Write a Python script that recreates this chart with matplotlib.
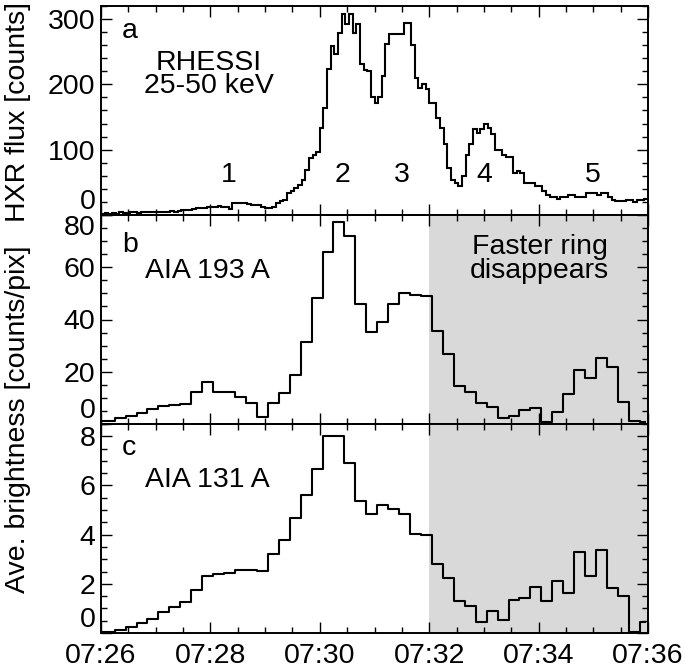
import matplotlib
matplotlib.use("Agg")
import matplotlib.pyplot as plt
import numpy as np
from matplotlib.ticker import MultipleLocator, FuncFormatter

# RHESSI 25-50 keV, 4 s bins starting 07:26:00
hxr_start = 26.0          # minutes after 07:00
hxr_dt = 4.0              # s
hxr_counts = [2, 3, 2, 3, 2, 4, 3, 3, 4,
              4, 3, 5, 4, 4, 5, 4, 5, 4, 5, 6, 5,
              6, 7, 8, 8, 9, 10, 10, 11, 12,
              13, 13, 14, 13, 12, 9,
              19, 19, 18, 18, 17, 16, 15, 15,
              12, 11, 11, 12,
              18, 21, 23,
              34, 37, 41,
              46, 54, 69, 87, 92, 97, 133, 164, 223, 259, 246, 279, 308, 292, 308, 279, 292,
              231, 222, 220, 180, 172, 180, 213, 262,
              277, 277, 277, 277,
              294, 294,
              260, 210, 195, 201, 193,
              172, 172,
              149, 133, 108, 72, 54, 49, 44, 59, 92, 108, 132, 126, 132, 139, 133, 124,
              100, 100, 92, 89, 89,
              65, 68, 64,
              49, 49, 49, 44, 44,
              36, 31, 28, 28, 25, 27, 27, 30, 30,
              28, 28, 28, 34, 33, 33, 30, 33, 33, 28,
              23, 21, 21, 21, 23, 23, 20, 23, 23, 24]

# AIA 12 s cadence, first frame 07:25:57
aia_start = 26.0 - 3.0 / 60
aia_dt = 12.0
aia193 = [1.3, 1.3, 2.2, 3.2, 4.1, 5.6, 6.9, 7.3, 7.6, 12.1, 15.9, 12.4, 12.1, 10.5, 8.0, 2.8, 8.2,
          11.8, 18.6, 31.3, 48.3, 65.9, 77.2, 71.8, 46.0, 35.1, 39.2, 45.8, 50.0, 49.2, 49.0, 35.5,
          26.9, 14.4, 12.1, 8.2, 6.4, 2.2, 3.1, 5.4, 6.0, 0.6, 4.7, 11.5, 20.8, 17.6, 25.3, 21.7,
          8.3, 1.3, 0.6]
aia131 = [0.05, 0.05, 0.12, 0.26, 0.39, 0.57, 0.84, 1.07, 1.25, 1.76, 2.33, 2.39, 2.43, 2.57, 2.57,
          2.53, 3.22, 3.77, 4.68, 5.62, 6.65, 8.01, 8.01, 6.90, 5.36, 4.86, 5.22, 5.05, 4.83, 4.03,
          3.99, 2.82, 2.22, 1.32, 1.10, 0.44, 0.91, 0.53, 1.35, 1.43, 1.89, 1.31, 2.11, 1.62, 3.28,
          2.33, 3.36, 1.81, 1.51, 0.03, 0.44]

peak_labels = ["1", "2", "3", "4", "5"]
peak_times = [28.33, 30.42, 31.5, 33.0, 35.0]
shade_from, shade_to = 32.0, 36.0     # faster ring gone

hxr_edges = hxr_start + np.arange(len(hxr_counts) + 1) * hxr_dt / 60
aia_t = aia_start + np.arange(len(aia193)) * aia_dt / 60

plt.rcParams["font.family"] = ["Liberation Sans", "DejaVu Sans"]
FS = 20.5
LW = 1.5

fig = plt.figure(figsize=(6.85, 6.71), dpi=100)
L, W, H = 101 / 685, 547 / 685, 209 / 671
ax_a = fig.add_axes([L, 1 - 215 / 671, W, H])
ax_b = fig.add_axes([L, 1 - 424 / 671, W, H])
ax_c = fig.add_axes([L, 1 - 633 / 671, W, H])

ax_a.stairs(hxr_counts, hxr_edges, baseline=None, color="k", lw=LW)
ax_b.axvspan(shade_from, shade_to, color="#d9d9d9", lw=0, zorder=0)
ax_b.step(aia_t, aia193, where="mid", color="k", lw=LW)
ax_c.axvspan(shade_from, shade_to, color="#d9d9d9", lw=0, zorder=0)
ax_c.step(aia_t, aia131, where="mid", color="k", lw=LW)

ax_a.set_ylim(0, 320)
ax_b.set_ylim(0, 80)
ax_c.set_ylim(0, 8.5)
ax_a.set_yticks([0, 100, 200, 300])
ax_b.set_yticks([0, 20, 40, 60, 80])
ax_c.set_yticks([0, 2, 4, 6, 8])
ax_a.yaxis.set_minor_locator(MultipleLocator(20))
ax_b.yaxis.set_minor_locator(MultipleLocator(5))
ax_c.yaxis.set_minor_locator(MultipleLocator(0.5))

for ax in (ax_a, ax_b, ax_c):
    ax.set_xlim(26, 36)
    ax.xaxis.set_major_locator(MultipleLocator(2))
    ax.xaxis.set_minor_locator(MultipleLocator(0.5))
    ax.xaxis.set_major_formatter(FuncFormatter(lambda x, pos: "07:%02d" % round(x)))
    ax.tick_params(which="both", direction="in", top=True, right=True, width=1.0,
                   labelsize=FS, pad=4)
    ax.tick_params(which="major", length=8)
    ax.tick_params(which="minor", length=4)
    for s in ax.spines.values():
        s.set_linewidth(1.4)
    ax.set_facecolor("none")
    # keep the end labels inside the panel like the original
    ax.yaxis.get_major_ticks()[0].label1.set_verticalalignment("bottom")

ax_b.yaxis.get_major_ticks()[-1].label1.set_verticalalignment("top")
ax_a.tick_params(labelbottom=False)
ax_b.tick_params(labelbottom=False)
ax_c.tick_params(axis="x", pad=7)

# panel texts
ax_a.text(0.038, 0.845, "a", transform=ax_a.transAxes, fontsize=FS)
ax_a.text(0.197, 0.694, "RHESSI", transform=ax_a.transAxes, fontsize=FS, ha="center")
ax_a.text(0.197, 0.585, "25-50 keV", transform=ax_a.transAxes, fontsize=FS, ha="center")
for lab, t in zip(peak_labels, peak_times):
    ax_a.text(t, 50, lab, fontsize=FS, ha="center")

ax_b.text(0.038, 0.824, "b", transform=ax_b.transAxes, fontsize=FS)
ax_b.text(0.080, 0.697, "AIA 193 A", transform=ax_b.transAxes, fontsize=FS)
ax_b.text(0.802, 0.812, "Faster ring", transform=ax_b.transAxes, fontsize=FS, ha="center")
ax_b.text(0.802, 0.697, "disappears", transform=ax_b.transAxes, fontsize=FS, ha="center")

ax_c.text(0.038, 0.852, "c", transform=ax_c.transAxes, fontsize=FS)
ax_c.text(0.080, 0.700, "AIA 131 A", transform=ax_c.transAxes, fontsize=FS)

fig.text(0.027, 1 - 112 / 671, "HXR flux [counts]", rotation=90, fontsize=FS,
         ha="center", va="center")
fig.text(0.027, 1 - 419 / 671, "Ave. brightness [counts/pix]", rotation=90, fontsize=FS,
         ha="center", va="center")

fig.savefig("out.png", dpi=100)
